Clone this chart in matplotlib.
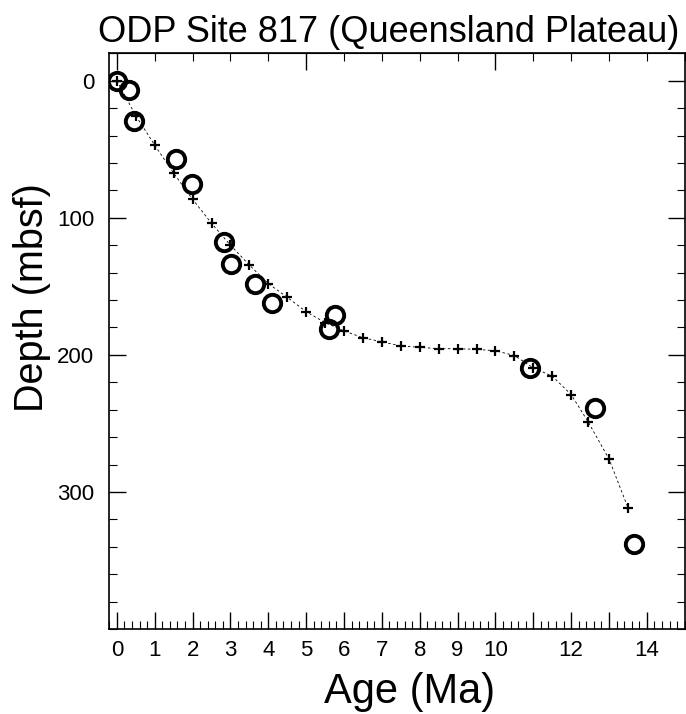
import matplotlib
matplotlib.use("Agg")
import matplotlib.pyplot as plt
from matplotlib.ticker import MultipleLocator, FixedLocator

plt.rcParams['font.family'] = ['Liberation Sans', 'DejaVu Sans']

# age-depth tie points (open circles)
datum_age = [0.0, 0.32, 0.46, 1.55, 1.98, 2.83, 3.01, 3.66, 4.1, 5.61, 5.77, 10.9, 12.64, 13.65]
datum_depth = [0.0, 6.6, 29.2, 57.2, 75.5, 118, 133.4, 148, 162, 181.4, 171, 209.9, 239, 337.7]

# interpolated age model (crosses)
model_age = [0.0, 0.5, 1.0, 1.5, 2.0, 2.5, 3.0, 3.5, 4.0, 4.5, 5.0, 5.5, 6.0, 6.5,
             7.0, 7.5, 8.0, 8.5, 9.0, 9.5, 10.0, 10.5, 11.0, 11.5, 12.0, 12.45, 13.0, 13.5]
model_depth = [0.0, 25.5, 47, 67.5, 86.5, 104, 120, 134.5, 148, 158, 168.5, 176.5, 182.5, 187.5,
               190.5, 193.5, 194.5, 195.5, 195.5, 196, 197, 200.5, 209.5, 215.5, 229, 249, 276, 311.5]

xticks_labelled = [0, 1, 2, 3, 4, 5, 6, 7, 8, 9, 10, 12, 14]

fig = plt.figure(figsize=(6.86, 7.14), dpi=100)
ax = fig.add_axes([0.1593, 0.119, 0.8389, 0.8064])

ax.plot(model_age, model_depth, color='black', lw=0.6, ls=(0, (3, 3)))
ax.plot(model_age, model_depth, ls='none', marker='+', ms=7.5, mew=1.6, color='black')
ax.plot(datum_age, datum_depth, ls='none', marker='o', ms=12.5, mew=2.8,
        mfc='none', mec='black')

ax.set_xlim(-0.2, 15)
ax.set_ylim(400, -20)

ax.xaxis.set_major_locator(MultipleLocator(1))
ax.xaxis.set_minor_locator(MultipleLocator(0.2))
ax.set_xticks(range(0, 15))
ax.set_xticklabels([str(t) if t in xticks_labelled else '' for t in range(0, 15)])
ax.yaxis.set_major_locator(FixedLocator([0, 100, 200, 300]))
ax.yaxis.set_minor_locator(MultipleLocator(20))

ax.tick_params(axis='both', which='major', direction='in', length=12, width=1,
               labelsize=16, right=True, top=False)
ax.tick_params(axis='both', which='minor', direction='in', length=6, width=0.8,
               right=True, top=False)
ax.tick_params(axis='x', which='major', pad=8)
ax.tick_params(axis='y', which='major', pad=11)

top = ax.secondary_xaxis('top')
top.set_xticks([0, 5, 10])
top.xaxis.set_minor_locator(MultipleLocator(1))
top.tick_params(which='major', direction='in', length=12, width=1, labeltop=False)
top.tick_params(which='minor', direction='in', length=6, width=0.8)

for s in ax.spines.values():
    s.set_linewidth(1.2)

ax.set_title("ODP Site 817 (Queensland Plateau)", fontsize=26, pad=8, x=0.486)
ax.set_xlabel("Age (Ma)", fontsize=30)
ax.set_ylabel("Depth (mbsf)", fontsize=28.5)
ax.xaxis.set_label_coords(0.521, -0.075, transform=ax.transAxes)
ax.xaxis.label.set_va('top')
ax.yaxis.label.set_va('center')
ax.yaxis.set_label_coords(-0.134, 0.576, transform=ax.transAxes)

fig.savefig("out.png", dpi=100)
